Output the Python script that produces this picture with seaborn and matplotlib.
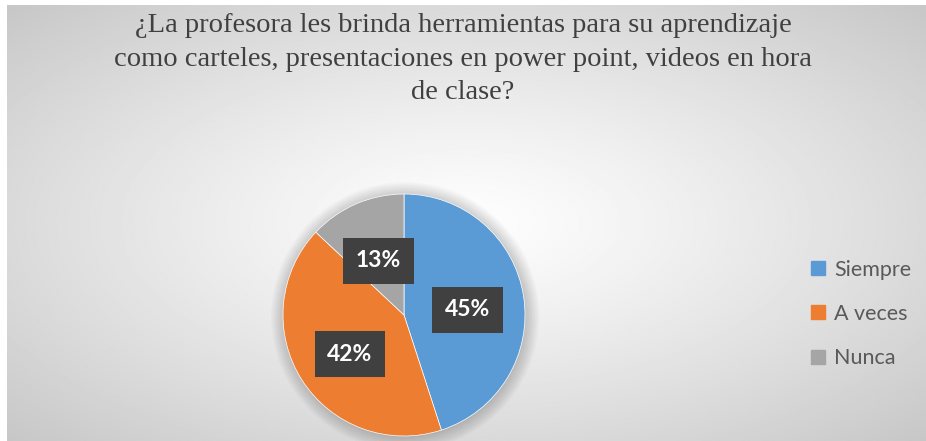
import numpy as np
import matplotlib
matplotlib.use("Agg")
import matplotlib.pyplot as plt
import seaborn as sns
from matplotlib.patches import Circle, Rectangle

# data
categories = ["Siempre", "A veces", "Nunca"]
percentages = [45, 42, 13]
slice_colors = ["#5B9BD5", "#ED7D31", "#A5A5A5"]
title = ("¿La profesora les brinda herramientas para su aprendizaje\n"
         "como carteles, presentaciones en power point, videos en hora\n"
         "de clase?")

sns.set_theme(style="white")
plt.rcParams["font.family"] = ["Lato", "DejaVu Sans"]

W, H = 926, 441
fig = plt.figure(figsize=(W / 100, H / 100), dpi=100)
fig.patch.set_facecolor("white")

# radial gradient background (chart area)
bg = fig.add_axes([7 / W, 0, (W - 7) / W, (H - 5) / H])
yy, xx = np.mgrid[0:1:300j, 0:1:600j]
dist = np.sqrt(((xx - 0.5) / 0.5) ** 2 + ((yy - 0.5) / 0.5) ** 2) / np.sqrt(2)
shade = 0.995 - 0.215 * np.clip(dist, 0, 1) ** 1.2
bg.imshow(shade, cmap="gray", vmin=0, vmax=1, aspect="auto",
          extent=[0, 1, 0, 1], interpolation="bilinear")
bg.set_axis_off()

# title
fig.text(463 / W, 1 - 59 / H, title, ha="center", va="center",
         family="Liberation Serif", fontsize=20.5, color="#404040",
         linespacing=1.44)

# pie
ax = fig.add_axes([(404 - 121) / W, (H - 315 - 121) / H, 242 / W, 242 / H])

# soft shadow
for i in range(10):
    ax.add_patch(Circle((0.01, -0.01), 1 + 0.012 * i, color="black",
                        alpha=0.018, lw=0, zorder=0, clip_on=False))

wedges, texts, autotexts = ax.pie(
    percentages, colors=slice_colors, startangle=90, counterclock=False,
    autopct="%d%%", pctdistance=0.53, radius=1,
    wedgeprops=dict(linewidth=0.5, edgecolor="white"),
)
ax.set_xlim(-1, 1)
ax.set_ylim(-1, 1)
ax.set_aspect("equal")
ax.set_axis_off()

for t in autotexts:
    x, y = t.get_position()
    t.set_position((x, y - 0.04))
    t.set_color("white")
    t.set_fontsize(16.5)
    t.set_fontweight("bold")
    t.set_bbox(dict(boxstyle="square,pad=0.55", facecolor="#404040",
                    edgecolor="none"))
for w in wedges:
    w.set_zorder(2)

# legend
handles = [Rectangle((0, 0), 1, 1, color=c) for c in slice_colors]
fig.legend(handles, categories, loc="center left",
           bbox_to_anchor=(792 / W, 1 - 314 / H), frameon=False,
           fontsize=15.5, labelcolor="#595959", handlelength=0.62,
           handleheight=0.62, handletextpad=0.45, labelspacing=1.12)

fig.savefig("out.png", dpi=100)
